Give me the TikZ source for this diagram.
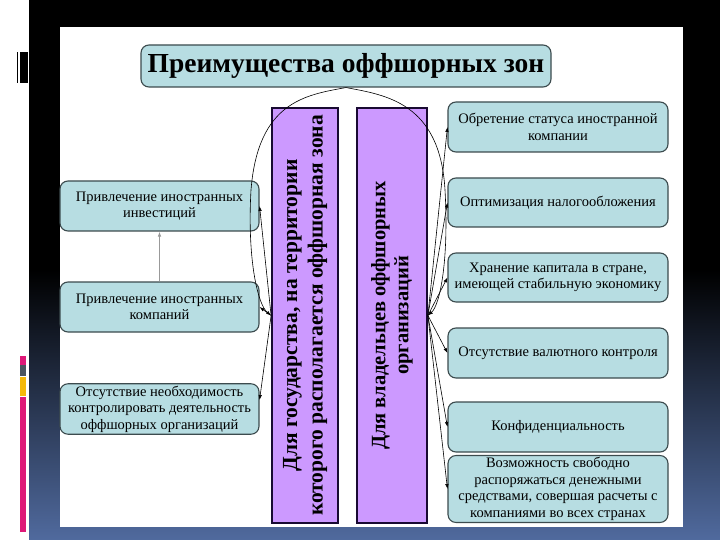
\documentclass[tikz,border=0pt]{standalone}
\usepackage{fontspec}
\setmainfont{Liberation Serif}
\usetikzlibrary{arrows.meta}
\definecolor{boxfill}{RGB}{183,221,226}
\definecolor{boxborder}{RGB}{60,75,78}
\definecolor{purpfill}{RGB}{204,153,255}
\definecolor{purpborder}{RGB}{25,10,50}
\definecolor{bgblue}{RGB}{80,106,158}
\definecolor{magbar}{RGB}{222,25,120}
\definecolor{slatebar}{RGB}{75,85,95}
\definecolor{yelbar}{RGB}{245,185,10}
\begin{document}
\begin{tikzpicture}[x=1pt,y=-1pt,
  box/.style={draw=boxborder, fill=boxfill, rounded corners=8pt, line width=1.1pt,
    align=center, inner sep=2pt, font=\fontsize{14.5}{16.5}\selectfont},
  lbox/.style={box, minimum width=199pt, minimum height=50pt},
  rbox/.style={box, minimum width=220pt, minimum height=50pt},
  purp/.style={draw=purpborder, fill=purpfill, line width=1.8pt, rotate=90,
    minimum width=415pt, align=center, inner sep=0pt},
  conn/.style={draw=black, line width=0.6pt, -{Latex[length=5pt,width=3.5pt]}},
  gconn/.style={draw=gray!80, line width=0.8pt, -{Latex[length=5pt,width=3.5pt]}}
]
\useasboundingbox (0,0) rectangle (720,540);
% background
\fill[white] (0,0) rectangle (720,540);
\fill[black] (29,0) rectangle (720,270);
\shade[top color=black, bottom color=bgblue] (29,270) rectangle (720,540);
\fill[white] (60,27) rectangle (683,527);
% left decorations
\fill[black] (19.5,52) rectangle (28,83);
\fill[black] (16.5,52) rectangle (18,83);
\fill[magbar] (20,356) rectangle (26,365);
\fill[slatebar] (20,365) rectangle (26,376);
\fill[yelbar] (20,377) rectangle (26,396);
\fill[magbar] (20,397) rectangle (26,532);

% title
\node[box, minimum width=410pt, minimum height=42pt, font=\fontsize{27.5}{30}\selectfont\bfseries] (T) at (346,66) {Преимущества оффшорных зон};

% purple columns
\node[purp, minimum height=66pt, font=\fontsize{21.5}{25.5}\selectfont\bfseries] (P1) at (305,315.5) {Для государства, на территории\\которого располагается оффшорная зона};
\node[purp, minimum height=70pt, font=\fontsize{20.5}{23}\selectfont\bfseries] (P2) at (392,315.5) {Для владельцев оффшорных\\организаций};

% left boxes
\node[lbox] (L1) at (159.5,206) {Привлечение иностранных\\инвестиций};
\node[lbox] (L2) at (159.5,307) {Привлечение иностранных\\компаний};
\node[lbox] (L3) at (159.5,409) {Отсутствие необходимость\\контролировать деятельность\\оффшорных организаций};

% right boxes
\node[rbox] (R1) at (558,127) {Обретение статуса иностранной\\компании};
\node[rbox, minimum height=49pt] (R2) at (558,202.5) {Оптимизация налогообложения};
\node[rbox, minimum height=49pt] (R3) at (558,277.5) {Хранение капитала в стране,\\имеющей стабильную экономику};
\node[rbox] (R4) at (558,353) {Отсутствие валютного контроля};
\node[rbox] (R5) at (558,427) {Конфиденциальность};
\node[rbox, minimum height=58pt] (R6) at (558,489) {Возможность свободно\\распоряжаться денежными\\средствами, совершая расчеты с\\компаниями во всех странах};

% brace-like connectors from the title
\draw[conn] (T.south) .. controls (305,95) and (258,102) .. (251,190)
  .. controls (247,260) and (258,305) .. (P1.north);
\draw[conn] (T.south) .. controls (385,95) and (440,102) .. (445,190)
  .. controls (449,260) and (440,305) .. (P2.south);

% fan-out to left boxes
\draw[conn] (P1.north) -- (L1.east);
\draw[conn] (P1.north) -- (L2.east);
\draw[conn] (P1.north) -- ([yshift=9pt]L3.east);
\draw[gconn] (L2.north) -- (L1.south);

% fan-out to right boxes
\foreach \r in {R1,R2,R3,R4,R5,R6}
  \draw[conn] (P2.south) -- (\r.west);
\end{tikzpicture}
\end{document}
